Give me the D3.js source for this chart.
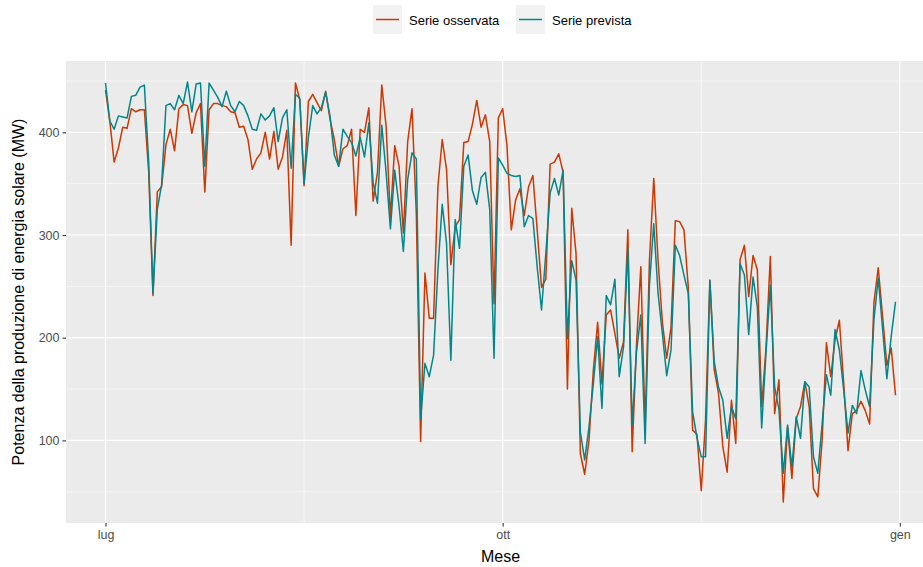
<!DOCTYPE html>
<html lang="it">
<head>
<meta charset="UTF-8">
<title>Potenza solare</title>
<script src="https://cdn.jsdelivr.net/npm/d3@7"></script>
<style>
  body { margin: 0; background: #fff; }
  svg { display: block; font-family: "Liberation Sans", Arial, sans-serif; }
</style>
</head>
<body>
<script>
const startDate = "2021-07-01"
const seriesNames = ["Serie osservata", "Serie prevista"]
const seriesColors = ["#CD3700", "#00868B"]
const monthTicks = ["2021-07-01", "2021-10-01", "2022-01-01"]
const monthLabels = ["lug", "ott", "gen"]
const yTicks = [100, 200, 300, 400]
const yMinor = [50, 150, 250, 350, 450]

// daily values, 1 Jul -> 31 Dec
const observed = [
  441, 411, 371, 385, 405, 404, 423, 420, 422, 422, 362, 241, 342, 347, 388, 403, 382, 423, 427, 426,
  399, 419, 428, 342, 422, 428, 428, 426, 425, 420, 419, 405, 406, 393, 364, 374, 380, 400, 374, 401,
  364, 376, 402, 290, 448, 432, 348, 430, 437, 429, 421, 440, 413, 393, 367, 384, 387, 403, 319, 403,
  400, 424, 333, 361, 446, 406, 317, 387, 367, 302, 391, 423, 321, 99, 263, 219, 219, 347, 393, 364,
  271, 308, 315, 390, 391, 408, 431, 405, 417, 391, 233, 414, 423, 387, 305, 334, 345, 319, 347, 358,
  305, 249, 257, 369, 371, 379, 361, 150, 326, 282, 87, 67, 100, 168, 215, 155, 222, 227, 204, 180,
  196, 305, 89, 193, 269, 113, 275, 355, 275, 215, 180, 210, 314, 313, 305, 249, 110, 106, 51, 120,
  256, 169, 146, 94, 69, 139, 97, 276, 290, 240, 280, 266, 133, 190, 279, 126, 159, 40, 113, 63,
  121, 133, 157, 133, 53, 45, 100, 195, 162, 198, 217, 156, 90, 126, 129, 138, 129, 116, 234, 268,
  221, 173, 190, 144
]
const predicted = [
  448, 411, 403, 416, 415, 414, 435, 436, 444, 446, 372, 243, 325, 349, 426, 428, 422, 436, 428, 449,
  420, 447, 448, 367, 448, 441, 434, 425, 440, 426, 420, 430, 426, 416, 403, 402, 418, 412, 416, 424,
  391, 414, 422, 365, 437, 433, 350, 395, 426, 418, 424, 439, 416, 378, 367, 403, 396, 390, 377, 395,
  376, 409, 351, 331, 407, 361, 306, 363, 328, 284, 354, 380, 374, 121, 175, 162, 183, 266, 330, 292,
  178, 315, 287, 367, 378, 343, 330, 356, 361, 325, 180, 375, 368, 360, 358, 357, 358, 308, 319, 316,
  269, 227, 282, 341, 355, 339, 363, 199, 275, 256, 108, 81, 113, 155, 201, 131, 241, 232, 257, 162,
  191, 287, 115, 186, 222, 97, 251, 311, 243, 204, 163, 188, 290, 280, 261, 243, 128, 103, 84, 84,
  256, 177, 152, 139, 102, 133, 121, 272, 261, 203, 259, 230, 112, 185, 251, 152, 130, 68, 115, 74,
  123, 102, 157, 152, 84, 68, 116, 164, 144, 208, 188, 149, 107, 134, 126, 168, 149, 133, 217, 258,
  209, 160, 201, 235
]

const W = 923, H = 567
const panel = { left: 66, right: 935, top: 61, bottom: 523 }

const t0 = new Date(startDate + "T00:00:00Z")
const dates = observed.map((_, i) => d3.utcDay.offset(t0, i))

const svg = d3.select("body").append("svg").attr("width", W).attr("height", H)

// x scale with ggplot-like 5% expansion
const ext = d3.extent(dates)
const span = ext[1] - ext[0]
const xScale = d3.scaleUtc()
  .domain([new Date(+ext[0] - span * 0.05), new Date(+ext[1] + span * 0.05)])
  .range([panel.left, panel.right])

const allVals = observed.concat(predicted)
const yMin = d3.min(allVals), yMax = d3.max(allVals)
const yPad = (yMax - yMin) * 0.05
const yScale = d3.scaleLinear()
  .domain([yMin - yPad, yMax + yPad])
  .range([panel.bottom, panel.top])

// panel background
svg.append("rect")
  .attr("x", panel.left).attr("y", panel.top)
  .attr("width", panel.right - panel.left).attr("height", panel.bottom - panel.top)
  .attr("fill", "#EBEBEB")

const tickDates = monthTicks.map(s => new Date(s + "T00:00:00Z"))
const minorDates = d3.pairs(tickDates).map(([a, b]) => new Date((+a + +b) / 2))

// gridlines
const grid = svg.append("g")
grid.selectAll(".ymin").data(yMinor.filter(v => yScale(v) > panel.top && yScale(v) < panel.bottom)).enter()
  .append("line")
  .attr("x1", panel.left).attr("x2", panel.right)
  .attr("y1", d => yScale(d)).attr("y2", d => yScale(d))
  .attr("stroke", "#fff").attr("stroke-width", 0.6)
grid.selectAll(".xmin").data(minorDates).enter()
  .append("line")
  .attr("x1", d => xScale(d)).attr("x2", d => xScale(d))
  .attr("y1", panel.top).attr("y2", panel.bottom)
  .attr("stroke", "#fff").attr("stroke-width", 0.6)
grid.selectAll(".ymaj").data(yTicks).enter()
  .append("line")
  .attr("x1", panel.left).attr("x2", panel.right)
  .attr("y1", d => yScale(d)).attr("y2", d => yScale(d))
  .attr("stroke", "#fff").attr("stroke-width", 1.2)
grid.selectAll(".xmaj").data(tickDates).enter()
  .append("line")
  .attr("x1", d => xScale(d)).attr("x2", d => xScale(d))
  .attr("y1", panel.top).attr("y2", panel.bottom)
  .attr("stroke", "#fff").attr("stroke-width", 1.2)

// lines
const line = d3.line().x((d, i) => xScale(dates[i])).y(d => yScale(d))
;[observed, predicted].forEach((s, k) => {
  svg.append("path")
    .datum(s)
    .attr("d", line)
    .attr("fill", "none")
    .attr("stroke", seriesColors[k])
    .attr("stroke-width", 1.5)
    .attr("stroke-linejoin", "round")
})

// axes
const xAxis = d3.axisBottom(xScale)
  .tickValues(tickDates)
  .tickFormat((d, i) => monthLabels[i])
  .tickSize(3.5).tickPadding(4)
const gx = svg.append("g").attr("transform", `translate(0, ${panel.bottom})`).call(xAxis)
gx.select(".domain").remove()
gx.selectAll("line").attr("stroke", "#333").attr("stroke-width", 1.1)
gx.selectAll("text").attr("fill", "#4D4D4D").style("font-size", "12.5px")

const yAxis = d3.axisLeft(yScale).tickValues(yTicks).tickSize(3.5).tickPadding(3)
const gy = svg.append("g").attr("transform", `translate(${panel.left}, 0)`).call(yAxis)
gy.select(".domain").remove()
gy.selectAll("line").attr("stroke", "#333").attr("stroke-width", 1.1)
gy.selectAll("text").attr("fill", "#4D4D4D").style("font-size", "12.5px")

// axis titles
svg.append("text")
  .attr("x", (panel.left + panel.right) / 2).attr("y", 562)
  .attr("text-anchor", "middle")
  .style("font-size", "16px")
  .text("Mese")

svg.append("text")
  .attr("transform", `translate(24, ${(panel.top + panel.bottom) / 2}) rotate(-90)`)
  .attr("text-anchor", "middle")
  .style("font-size", "16px")
  .text("Potenza della produzione di energia solare (MW)")

// legend
const legendX = [373, 516]
const legend = svg.append("g")
seriesNames.forEach((name, k) => {
  const g = legend.append("g").attr("transform", `translate(${legendX[k]}, 5)`)
  g.append("rect").attr("width", 29).attr("height", 29).attr("fill", "#F2F2F2")
  g.append("line").attr("x1", 3).attr("x2", 26).attr("y1", 14.5).attr("y2", 14.5)
    .attr("stroke", seriesColors[k]).attr("stroke-width", 1.5)
  g.append("text").attr("x", 36).attr("y", 19.5)
    .style("font-size", "13px").text(name)
})
</script>
</body>
</html>
